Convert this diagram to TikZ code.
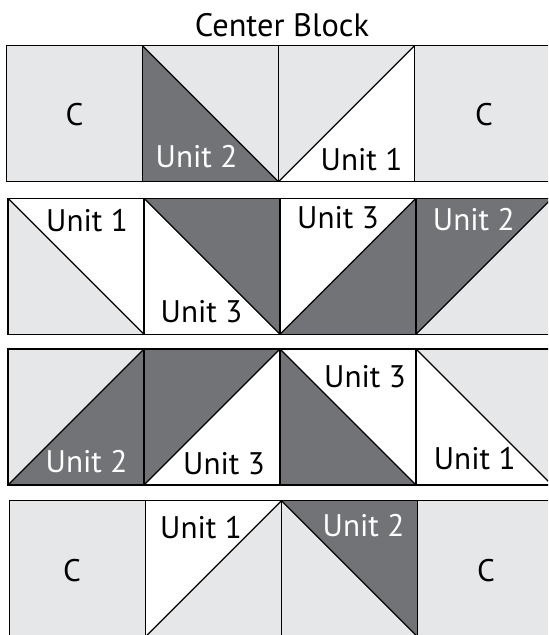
\documentclass[tikz,border=0pt]{standalone}
\usepackage{fontspec}
\setmainfont{PT Sans}
\usepackage{tikz}

\definecolor{lightpc}{RGB}{230,231,232}
\definecolor{darkpc}{RGB}{114,115,119}

\tikzset{seam/.style={draw=black, line width=0.6pt}}

% one square of a row: #1 column, #2 seam (0 none, 1 falling, 2 rising),
% #3 fill left of seam, #4 fill right of seam
\newcommand{\quiltcell}[4]{%
  \begin{scope}[shift={(#1*136,0)}]
    \ifcase#2\relax
      \fill[#3] (0,0) rectangle (136,136);
    \or
      \fill[#3] (0,0) -- (0,136) -- (136,136) -- cycle;
      \fill[#4] (0,0) -- (136,0) -- (136,136) -- cycle;
      \draw[seam] (0,0) -- (136,136);
    \or
      \fill[#3] (0,0) -- (136,0) -- (0,136) -- cycle;
      \fill[#4] (136,0) -- (136,136) -- (0,136) -- cycle;
      \draw[seam] (0,136) -- (136,0);
    \fi
    \draw[seam] (0,0) rectangle (136,136);
  \end{scope}}

\begin{document}
\begin{tikzpicture}[
  x=0.5pt, y=-0.5pt,
  font=\fontsize{15.6}{18}\selectfont,
  lbl/.style={inner sep=0pt},
  lblw/.style={lbl, text=white},
  ]
  \useasboundingbox (0,0) rectangle (548,635);
  \clip (0,0) rectangle (548,635);

  %% Title
  \node[anchor=base, font=\fontsize{16.2}{19}\selectfont] (title) at (282,37) {Center Block};

  %% Row 1
  \begin{scope}[shift={(6.5,45.7)}]
    \foreach \d/\fa/\fb [count=\c from 0] in
        {0/lightpc/lightpc, 1/darkpc/lightpc, 2/lightpc/white, 0/lightpc/lightpc}
      {\quiltcell{\c}{\d}{\fa}{\fb}}
  \end{scope}
  %% Row 2
  \begin{scope}[shift={(8,198.3)}]
    \foreach \d/\fa/\fb [count=\c from 0] in
        {1/lightpc/white, 1/white/darkpc, 2/white/darkpc, 2/darkpc/lightpc}
      {\quiltcell{\c}{\d}{\fa}{\fb}}
  \end{scope}
  %% Row 3
  \begin{scope}[shift={(8,349)}]
    \foreach \d/\fa/\fb [count=\c from 0] in
        {2/lightpc/darkpc, 2/darkpc/white, 1/darkpc/white, 1/white/lightpc}
      {\quiltcell{\c}{\d}{\fa}{\fb}}
  \end{scope}
  %% Row 4
  \begin{scope}[shift={(9.5,500.7)}]
    \foreach \d/\fa/\fb [count=\c from 0] in
        {0/lightpc/lightpc, 2/white/lightpc, 1/lightpc/darkpc, 0/lightpc/lightpc}
      {\quiltcell{\c}{\d}{\fa}{\fb}}
  \end{scope}

  %% Labels
  \node[lbl]  (r1c1) at (74.5,114.7) {C};
  \node[lblw] (r1c2) at (196.5,156.7) {Unit 2};
  \node[lbl]  (r1c3) at (361.5,159.7) {Unit 1};
  \node[lbl]  (r1c4) at (484,114.7) {C};

  \node[lbl]  (r2c1) at (87,221) {Unit 1};
  \node[lbl]  (r2c2) at (201.5,312) {Unit 3};
  \node[lbl]  (r2c3) at (338,218) {Unit 3};
  \node[lblw] (r2c4) at (473.8,219.5) {Unit 2};

  \node[lblw] (r3c1) at (86.5,462) {Unit 2};
  \node[lbl]  (r3c2) at (224,464) {Unit 3};
  \node[lbl]  (r3c3) at (365,377) {Unit 3};
  \node[lbl]  (r3c4) at (474.7,459) {Unit 1};

  \node[lbl]  (r4c1) at (72,571) {C};
  \node[lbl]  (r4c2) at (201,527.7) {Unit 1};
  \node[lblw] (r4c3) at (363.5,525.7) {Unit 2};
  \node[lbl]  (r4c4) at (486,571) {C};
\end{tikzpicture}
\end{document}
